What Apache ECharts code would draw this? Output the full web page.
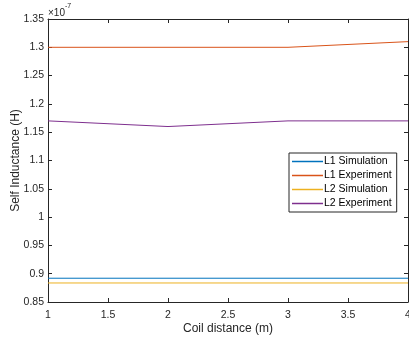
<!DOCTYPE html>
<html><head><meta charset="utf-8">
<script src="https://cdn.jsdelivr.net/npm/echarts@6/dist/echarts.min.js"></script>
<style>html,body{margin:0;padding:0;background:#fff}#c{width:409px;height:339px}</style>
</head><body><div id="c"></div>
<script>
const distances = [1, 2, 3, 4];
const l1Simulation = [0.892, 0.892, 0.892, 0.892];
const l1Experiment = [1.30, 1.30, 1.30, 1.31];
const l2Simulation = [0.8836, 0.8836, 0.8836, 0.8836];
const l2Experiment = [1.17, 1.16, 1.17, 1.17];
const seriesNames = ['L1 Simulation', 'L1 Experiment', 'L2 Simulation', 'L2 Experiment'];
const colors = ['#0072BD', '#D95319', '#EDB120', '#7E2F8E'];
const allValues = [l1Simulation, l1Experiment, l2Simulation, l2Experiment];

const font = 'Liberation Sans, Arial, sans-serif';
const axCol = '#262626';
const chart = echarts.init(document.getElementById('c'), null, {renderer: 'canvas'});
const fmtY = v => String(Math.round(v * 100) / 100);
chart.setOption({
  animation: false,
  color: colors,
  grid: {left: 48, right: 1, top: 19, bottom: 37, containLabel: false, outerBoundsMode: 'none'},
  xAxis: [{
    type: 'value', min: 1, max: 4, interval: 0.5,
    name: 'Coil distance (m)', nameLocation: 'middle', nameGap: 21, nameMoveOverlap: false,
    nameTextStyle: {fontFamily: font, fontSize: 12, color: axCol},
    axisLine: {lineStyle: {color: axCol, width: 1}},
    axisTick: {inside: true, length: 4, lineStyle: {color: axCol}},
    axisLabel: {fontFamily: font, fontSize: 10.5, color: axCol, margin: 8, formatter: v => String(v)},
    splitLine: {show: false}
  }, {
    type: 'value', min: 1, max: 4, interval: 0.5, position: 'top',
    axisLine: {lineStyle: {color: axCol, width: 1}},
    axisTick: {inside: true, length: 4, lineStyle: {color: axCol}},
    axisLabel: {show: false}, splitLine: {show: false}
  }],
  yAxis: [{
    type: 'value', min: 0.85, max: 1.35, interval: 0.05,
    name: 'Self Inductance (H)', nameLocation: 'middle', nameGap: 26, nameRotate: 90, nameMoveOverlap: false,
    nameTextStyle: {fontFamily: font, fontSize: 12, color: axCol},
    axisLine: {show: true, lineStyle: {color: axCol, width: 1}},
    axisTick: {show: true, inside: true, length: 4, lineStyle: {color: axCol}},
    axisLabel: {fontFamily: font, fontSize: 10.5, color: axCol, margin: 4, formatter: fmtY},
    splitLine: {show: false}
  }, {
    type: 'value', min: 0.85, max: 1.35, interval: 0.05, position: 'right',
    axisLine: {show: true, lineStyle: {color: axCol, width: 1}},
    axisTick: {show: true, inside: true, length: 4, lineStyle: {color: axCol}},
    axisLabel: {show: false}, splitLine: {show: false}
  }],
  legend: {
    orient: 'vertical', left: 289, top: 153,
    data: seriesNames,
    icon: 'rect',
    backgroundColor: '#fff', borderColor: axCol, borderWidth: 1,
    padding: [3, 5, 3, 3], itemGap: 3, itemWidth: 31, itemHeight: 1.5,
    textStyle: {fontFamily: font, fontSize: 10.5, color: '#000', padding: [0, 0, 0, -4], lineHeight: 10, height: 10}
  },
  graphic: [{
    type: 'text', left: 48, top: 3,
    style: {
      text: '{a|×10}{b|-7}', fontFamily: font,
      rich: {a: {fontSize: 10, fill: axCol, fontFamily: font, padding: [5, 0, 0, 0]}, b: {fontSize: 7, fill: axCol, fontFamily: font, verticalAlign: 'top'}}
    }
  }],
  series: allValues.map((vals, i) => ({
    name: seriesNames[i], type: 'line', symbol: 'none', showSymbol: false,
    lineStyle: {width: 1, color: colors[i]},
    data: distances.map((d, j) => [d, vals[j]])
  }))
});
</script></body></html>
